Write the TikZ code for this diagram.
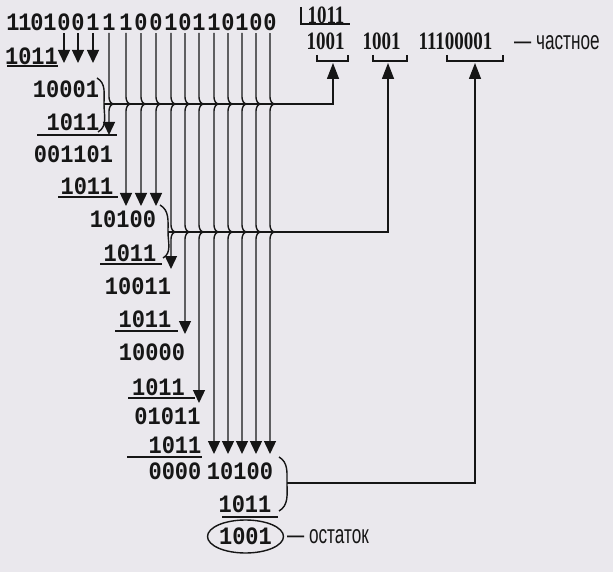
\documentclass[tikz,border=0pt]{standalone}
\usepackage{fontspec}
\setmainfont{Liberation Serif}
\newfontfamily\bitfont{Liberation Mono}[FakeStretch=0.88]
\newfontfamily\quofont{Liberation Serif}[FakeStretch=0.76]
\newfontfamily\wordfont{Liberation Sans}[FakeStretch=0.66]
\usetikzlibrary{positioning,arrows.meta,calc,shapes.geometric}
\definecolor{cpaper}{RGB}{234,232,237}
\definecolor{cink}{RGB}{22,22,22}
% a line that dips into a bus and leaves it again
\newcommand{\jog}[2]{-- (#1,#2+7) to[out=-90,in=180] (#1+5,#2) to[out=180,in=90] (#1,#2-7)}

\begin{document}
\begin{tikzpicture}[
  x=1pt,y=1pt,
  bit/.style={font=\bitfont\bfseries\fontsize{25}{27}\selectfont,text=cink,inner sep=0pt},
  quo/.style={font=\quofont\bfseries\fontsize{25}{27}\selectfont,text=cink,inner sep=0pt},
  word/.style={font=\wordfont\fontsize{26}{28}\selectfont,text=cink,inner sep=0pt},
  ln/.style={draw=cink,line width=1.4pt},
  arr/.style={ln,-{Triangle[length=13pt,width=12pt]}},
  arrup/.style={ln,-{Triangle[length=16pt,width=12pt]}},
]
\fill[cpaper] (0,0) rectangle (613,-572);
\useasboundingbox (0,0) rectangle (613,-572);
% --- dividend, one node per bit ---
\foreach \i/\x/\b in {1/13/1,2/25/1,3/37/0,4/50/1,5/64/0,6/78/0,7/93/1,8/109/1,
  9/126/1,10/141/0,11/156/0,12/171/1,13/185/0,14/199/1,15/214/1,16/228/0,17/242/1,18/256/0,19/270/0}
  \node[bit] (t\i) at (\x,-22.5) {\b};
% --- partial remainders and subtrahends ---
\node[bit] (r2) at (31.5,-56.5) {1011};
\node[bit] (r3) at (66,-89) {10001};
\node[bit] (r4) at (73,-122) {1011};
\node[bit] (r5) at (73.5,-154) {001101};
\node[bit] (r6) at (87,-186) {1011};
\node[bit] (r7) at (123,-219) {10100};
\node[bit] (r8) at (130,-253.5) {1011};
\node[bit] (r9) at (138,-286.5) {10011};
\node[bit] (r10) at (145,-319) {1011};
\node[bit] (r11) at (152,-352.5) {10000};
\node[bit] (r12) at (158.5,-387.5) {1011};
\node[bit] (r13) at (167.5,-416.5) {01011};
\node[bit] (r14) at (175,-445) {1011};
\node[bit] (r15) at (175,-471) {0000};
\node[bit] (r15b) at (240,-471) {10100};
\node[bit] (r16) at (245,-504.5) {1011};
\node[bit,ellipse,draw=cink,line width=1.4pt,minimum width=76pt,minimum height=33pt] (rem) at (245.5,-536.5) {1001};
\node[word,anchor=west] (remtxt) at (287,-537) {— остаток};
\foreach \y/\xa/\xb in {66/7/58,135/37/117,197/58/118,264/100/162,331/115/178,398/128/195,457/127/202,517/222/278}
  \draw[ln] (\xa,-\y) -- (\xb,-\y);
% --- divisor and quotient ---
\node[quo] (dv) at (326,-15.5) {1011};
\draw[ln] (301,-7) |- (350,-24);
\node[quo] (q1) at (325.5,-41.5) {1001};
\node[quo] (q2) at (381.5,-41.5) {1001};
\node[quo] (q3) at (455.5,-41.5) {11100001};
\node[word,anchor=west] (qtxt) at (514,-43) {— частное};
\draw[ln] (317,-55) |- (348,-61) -- (348,-55);
\draw[ln] (373,-55) |- (407,-61) -- (407,-55);
\draw[ln] (447,-55) |- (503,-61) -- (503,-55);
\coordinate (b1) at (333,-63);
\coordinate (b2) at (388,-63);
\coordinate (b3) at (475,-63);
% --- brackets that gather a step ---
\coordinate (m1) at (104,-104);
\coordinate (m2) at (168,-232);
\coordinate (m3) at (287,-483);
\draw[ln] (97,-78) to[out=-30,in=90] (m1) to[out=-90,in=30] (98,-132);
\draw[ln] (160,-205) to[out=-30,in=90] (m2) to[out=-90,in=30] (163,-258);
\draw[ln] (279,-457) to[out=-30,in=90] (m3) to[out=-90,in=30] (279,-511);
\draw[arrup] (m1) -| (b1);
\draw[arrup] (m2) -| (b2);
\draw[arrup] (m3) -| (b3);
% --- bits brought down ---
\coordinate (e1) at (0,-63);
\coordinate (e2) at (0,-135);
\coordinate (e3) at (0,-206);
\coordinate (e4) at (0,-269);
\coordinate (e5) at (0,-334);
\coordinate (e6) at (0,-403);
\coordinate (e7) at (0,-454);
\foreach \i in {5,6,7}
  \draw[arr,shorten <=2pt] (t\i.south) -- (t\i |- e1);
\foreach \i/\x/\e in {8/109/e2,9/126/e3,10/141/e3,11/156/e3}
  \draw[arr,shorten <=2pt] (t\i.south) \jog{\x}{-104} -- (t\i |- \e);
\foreach \i/\x/\e in {12/171/e4,13/185/e5,14/199/e6,15/214/e7,16/228/e7,17/242/e7,18/256/e7,19/270/e7}
  \draw[arr,shorten <=2pt] (t\i.south) \jog{\x}{-104} \jog{\x}{-232} -- (t\i |- \e);
\end{tikzpicture}
\end{document}
